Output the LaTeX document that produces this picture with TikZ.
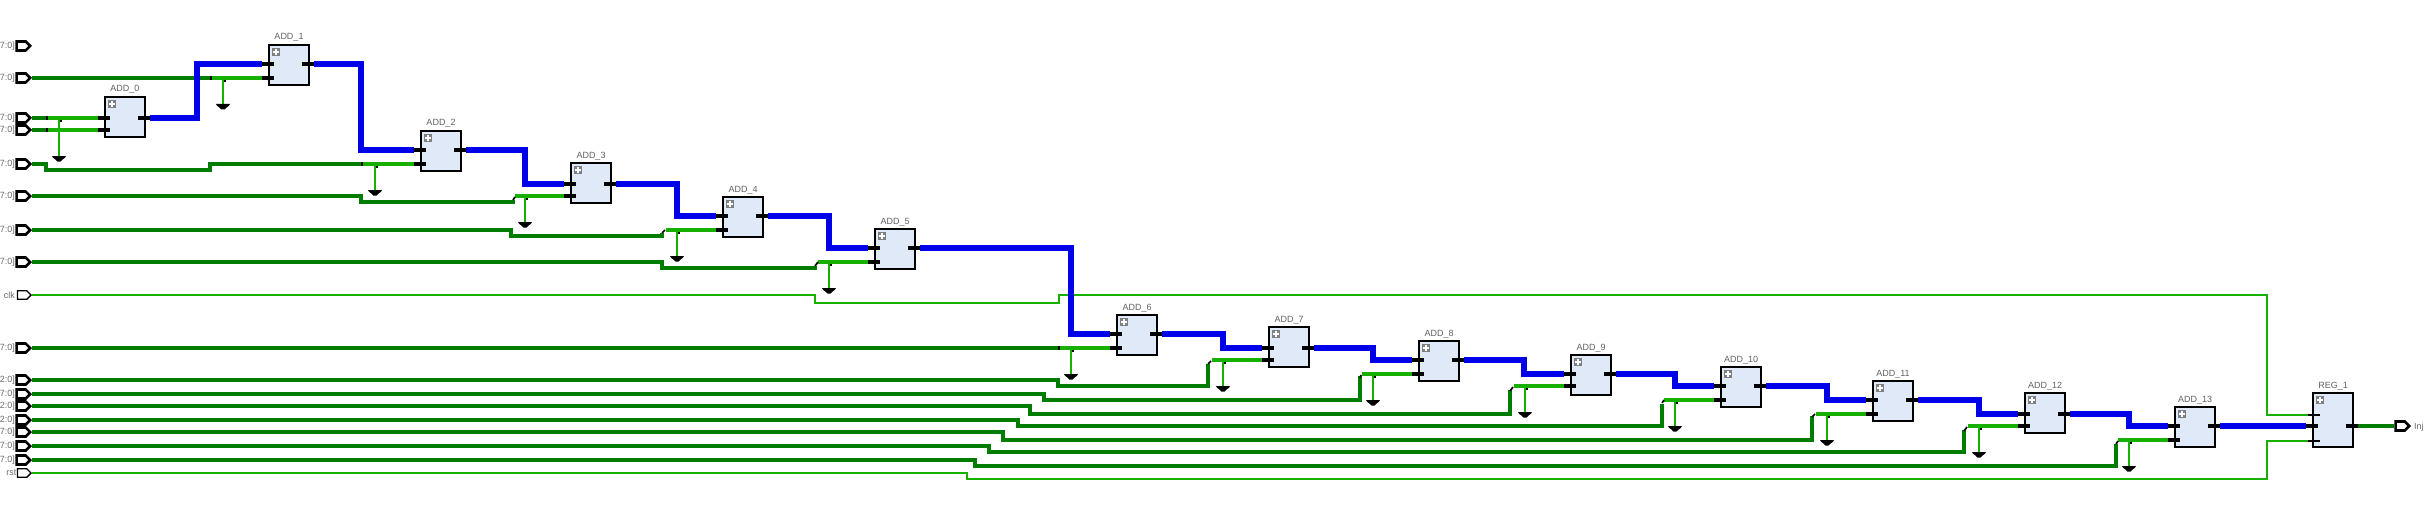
\documentclass[tikz,border=0pt]{standalone}
\usepackage{fontspec}
\setmainfont{Liberation Sans}
\usetikzlibrary{shapes.symbols}
\definecolor{wdark}{RGB}{0,125,0}
\definecolor{wlight}{RGB}{24,176,0}
\definecolor{wblue}{RGB}{0,0,232}
\definecolor{boxfill}{RGB}{223,233,247}
\tikzset{
  blockbox/.style={draw=black,fill=boxfill,line width=1.5pt,rectangle,inner sep=0pt,outer sep=0pt,minimum width=40pt,minimum height=40pt},
  regbox/.style={blockbox,minimum height=54pt},
  blocklabel/.style={font=\fontsize{9}{9}\selectfont,text=black!62,inner sep=0pt,anchor=base},
  portlabel/.style={font=\fontsize{9}{9}\selectfont,text=black!58,inner sep=0pt},
  iconbox/.style={fill=black!50,rectangle,inner sep=0pt,minimum width=8.5pt,minimum height=8.5pt},
  busport/.style={shape=signal,signal to=east,signal from=nowhere,draw=black,fill=white,line width=2.6pt,inner sep=0pt,minimum width=13.5pt,minimum height=9pt,anchor=east},
  bitport/.style={shape=signal,signal to=east,signal from=nowhere,draw=black,fill=white,line width=1.4pt,inner sep=0pt,minimum width=13.5pt,minimum height=8.5pt,anchor=east},
  darkwire/.style={draw=wdark,line width=3.8pt,line join=miter},
  lightwire/.style={draw=wlight,line width=3.6pt},
  tapwire/.style={draw=wlight,line width=2pt},
  bitwire/.style={draw=wlight,line width=1.7pt,line join=miter},
  bluewire/.style={draw=wblue,line width=5.6pt,line join=miter,yshift=-0.7pt},
  pinbar/.style={draw=black,line width=4pt},
  pinthin/.style={draw=black,line width=1.5pt},
  stub/.style={draw=black,line width=1.7pt},
}
\newcommand{\blk}[6]{%
  \node[blockbox,anchor=north west] (#1) at (#2,#3) {};
  \node[blocklabel] (#1-l) at (#2+20,#3-5) {#4};
  \node[iconbox] (#1-i) at (#2+7,#3+7) {};
  \draw[white,line width=1.3pt] (#2+4,#3+7) -- (#2+10,#3+7) (#2+7,#3+4) -- (#2+7,#3+10);
  \coordinate (#1-a) at (#2-7,#5);
  \coordinate (#1-b) at (#2-7,#6);
  \coordinate (#1-o) at (#2+45,#5);
}
\newcommand{\pins}[1]{%
  \draw[pinbar] (#1-a) -- ++(12,0);
  \draw[pinbar] (#1-b) -- ++(12,0);
  \draw[pinbar] (#1-o) -- ++(-12,0);
}
\newcommand{\gndsym}[2]{%
  \begin{scope}[shift={(#1,#2)}]
    \fill[black] (-7,0) -- (7,0) -- (6,1.7) -- (3.2,3.8) -- (1.6,5.5) -- (-1.6,5.5) -- (-3.2,3.8) -- (-6,1.7) -- cycle;
  \end{scope}
}
\newcommand{\gnd}[3]{% vx, wire y, tick
  \draw[tapwire] (#1,#2) -- (#1,#2+26);
  \gndsym{#1}{#2+26}
  \fill[black] (#1+1.2,#2+2) rectangle (#1+3,#2+4);
}
\newcommand{\bwire}[3]{%
  \draw[bluewire] (#1-o) -- (#3,0 |- #1-o) -- (#3,0 |- #2-a) -- (#2-a);
}
\begin{document}
\begin{tikzpicture}[x=1pt,y=-1pt]
\useasboundingbox (0,0) rectangle (2425,532);
% ports
\foreach \nm/\yy/\tx in {p1/46/7:0],p2/78/7:0],p3/118/7:0],p4/130/7:0],p5/164/7:0],p6/196/7:0],p7/230/7:0],p8/262/7:0],p9/348/7:0],p10/380/2:0],p11/394/7:0],p12/406/2:0],p13/420/2:0],p14/432/7:0],p15/446/7:0],p16/460/7:0]}{
  \node[busport] (\nm) at (32,\yy) {};
  \node[portlabel,anchor=east] (\nm-l) at (15,\yy) {\tx};
}
\node[bitport] (pclk) at (32,295) {};
\node[portlabel,anchor=east] (pclk-l) at (15,295) {clk};
\node[bitport] (prst) at (32,473) {};
\node[portlabel,anchor=east] (prst-l) at (16.5,473) {rst};
\node[busport] (pout) at (2411,426) {};
\node[portlabel,anchor=west] (pout-l) at (2414,427) {Inj};
% blocks
\blk{a0}{105}{97}{ADD\_0}{118}{130}
\blk{a1}{269}{45}{ADD\_1}{64}{78}
\blk{a2}{421}{131}{ADD\_2}{150}{164}
\blk{a3}{571}{163}{ADD\_3}{184}{196}
\blk{a4}{723}{197}{ADD\_4}{216}{230}
\blk{a5}{875}{229}{ADD\_5}{248}{262}
\blk{a6}{1117}{315}{ADD\_6}{334}{348}
\blk{a7}{1269}{327}{ADD\_7}{348}{360}
\blk{a8}{1419}{341}{ADD\_8}{360}{374}
\blk{a9}{1571}{355}{ADD\_9}{374}{386}
\blk{a10}{1721}{367}{ADD\_10}{386}{400}
\blk{a11}{1873}{381}{ADD\_11}{400}{414}
\blk{a12}{2025}{393}{ADD\_12}{414}{426}
\blk{a13}{2175}{407}{ADD\_13}{426}{440}
% register
\node[regbox,anchor=north west] (reg) at (2313,393) {};
\node[blocklabel] (reg-l) at (2333,388) {REG\_1};
\node[iconbox] (reg-i) at (2320,400) {};
\draw[white,line width=1.3pt] (2317,400) -- (2323,400) (2320,397) -- (2320,403);
\coordinate (reg-c) at (2308,415);
\coordinate (reg-d) at (2306,426);
\coordinate (reg-r) at (2308,441);
\coordinate (reg-o) at (2358,426);
% thin control wires
\draw[bitwire] (pclk.east) -- (815,295) -- (815,303) -- (1059,303) -- (1059,295) -- (2267,295) -- (2267,415) -- (reg-c);
\draw[bitwire] (prst.east) -- (967,473) -- (967,479) -- (2267,479) -- (2267,441) -- (reg-r);
% dark bus wires
\draw[darkwire] (p2.east) -- (211,78);
\draw[darkwire] (p3.east) -- (47,118);
\draw[darkwire] (p4.east) -- (47,130);
\draw[darkwire] (p5.east) -- (46,164) -- (46,170) -- (210,170) -- (210,164) -- (361,164);
\draw[darkwire] (p6.east) -- (361,196) -- (361,202) -- (513,202) -- (513,200);
\draw[darkwire] (p7.east) -- (511,230) -- (511,236) -- (662,236) -- (662,233);
\draw[darkwire] (p8.east) -- (662,262) -- (662,268) -- (815,268) -- (815,266);
\draw[darkwire] (p9.east) -- (1059,348);
\draw[darkwire] (p10.east) -- (1058,380) -- (1058,386) -- (1208,386) -- (1208,364);
\draw[darkwire] (p11.east) -- (1044,394) -- (1044,400) -- (1360,400) -- (1360,376);
\draw[darkwire] (p12.east) -- (1030,406) -- (1030,414) -- (1510,414) -- (1510,390);
\draw[darkwire] (p13.east) -- (1018,420) -- (1018,426) -- (1662,426) -- (1662,404);
\draw[darkwire] (p14.east) -- (1003,432) -- (1003,440) -- (1812,440) -- (1812,416);
\draw[darkwire] (p15.east) -- (989,446) -- (989,452) -- (1964,452) -- (1964,430);
\draw[darkwire] (p16.east) -- (975,460) -- (975,466) -- (2116,466) -- (2116,444);
\draw[darkwire] (reg-o) -- (pout.west);
% light segments after the junctions
\draw[lightwire] (47,118) -- (a0-a);
\draw[lightwire] (47,130) -- (a0-b);
\draw[lightwire] (211,78) -- (a1-b);
\draw[lightwire] (362,164) -- (a2-b);
\draw[lightwire] (515,196) -- (a3-b);
\draw[lightwire] (666,230) -- (a4-b);
\draw[lightwire] (818,262) -- (a5-b);
\draw[lightwire] (1060,348) -- (a6-b);
\draw[lightwire] (1212,360) -- (a7-b);
\draw[lightwire] (1362,374) -- (a8-b);
\draw[lightwire] (1514,386) -- (a9-b);
\draw[lightwire] (1664,400) -- (a10-b);
\draw[lightwire] (1816,414) -- (a11-b);
\draw[lightwire] (1968,426) -- (a12-b);
\draw[lightwire] (2118,440) -- (a13-b);
% junction stubs
\draw[stub] (47,116) -- (47,120);
\draw[stub] (47,128) -- (47,132);
\draw[stub] (211,76) -- (211,80);
\draw[stub] (362,162) -- (362,166);
\draw[stub] (513,200) -- (515,197);
\draw[stub] (662,233) -- (665,230);
\draw[stub] (815,266) -- (818,262);
\draw[stub] (1059,346) -- (1059,350);
\draw[stub] (1208,364) -- (1211,361);
\draw[stub] (1360,378) -- (1361,375);
\draw[stub] (1510,391) -- (1513,387);
\draw[stub] (1662,403) -- (1664,400);
\draw[stub] (1812,417) -- (1815,414);
\draw[stub] (1964,431) -- (1967,427);
\draw[stub] (2116,444) -- (2118,441);
% grounded taps
\draw[tapwire] (59,118) -- (59,156);
\gndsym{59}{156}
\fill[black] (60.2,120) rectangle (62,122);
\gnd{223}{78}{}
\gnd{375}{164}{}
\gnd{525}{196}{}
\gnd{677}{230}{}
\gnd{829}{262}{}
\gnd{1071}{348}{}
\gnd{1223}{360}{}
\gnd{1373}{374}{}
\gnd{1525}{386}{}
\gnd{1675}{400}{}
\gnd{1827}{414}{}
\gnd{1979}{426}{}
\gnd{2129}{440}{}
% blue buses
\bwire{a0}{a1}{197}
\bwire{a1}{a2}{361}
\bwire{a2}{a3}{525}
\bwire{a3}{a4}{677}
\bwire{a4}{a5}{829}
\bwire{a5}{a6}{1071}
\bwire{a6}{a7}{1223}
\bwire{a7}{a8}{1373}
\bwire{a8}{a9}{1524}
\bwire{a9}{a10}{1675}
\bwire{a10}{a11}{1827}
\bwire{a11}{a12}{1979}
\bwire{a12}{a13}{2129}
\draw[bluewire] (a13-o) -- (reg-d);
% pins
\pins{a0}\pins{a1}\pins{a2}\pins{a3}\pins{a4}\pins{a5}\pins{a6}
\pins{a7}\pins{a8}\pins{a9}\pins{a10}\pins{a11}\pins{a12}\pins{a13}
\draw[pinthin] (reg-c) -- ++(12,0);
\draw[pinthin] (reg-r) -- ++(12,0);
\draw[pinbar] (reg-d) -- ++(12,0);
\draw[pinbar] (reg-o) -- ++(-12,0);
\end{tikzpicture}
\end{document}
